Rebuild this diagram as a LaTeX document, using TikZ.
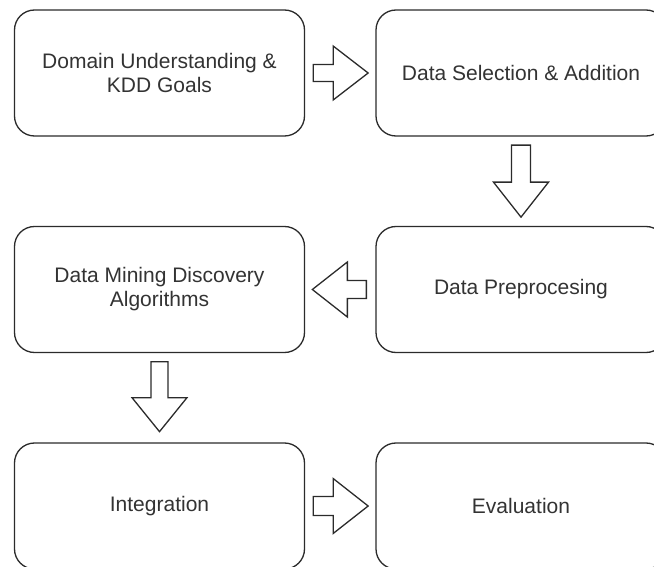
\documentclass[tikz,border=0pt]{standalone}
\usepackage{fontspec}
\setmainfont{Liberation Sans}
\usetikzlibrary{calc}
\definecolor{linec}{HTML}{2B2B2B}
\definecolor{textc}{HTML}{333333}
\begin{document}
\begin{tikzpicture}[x=1pt,y=-1pt,
  box/.style={draw=linec, line width=1.3pt, rounded corners=20pt, fill=white,
    align=center, text=textc, font=\fontsize{21}{24}\selectfont,
    minimum width=290pt, minimum height=126pt, inner sep=0pt},
  barrow/.style={draw=linec, line width=1.3pt, fill=white, line join=miter}]
\useasboundingbox (0,0) rectangle (654,567);
\clip (0,0) rectangle (654,567);
\node[box] (b1) at (159.5,73) {Domain Understanding \&\\KDD Goals};
\node[box] (b2) at (521,73) {Data Selection \& Addition};
\node[box] (b3) at (159.5,289.5) {Data Mining Discovery\\Algorithms};
\node[box] (b4) at (521,289.5) {Data Preprocesing};
\node[box] (b5) at (159.5,506) {Integration};
\node[box] (b6) at (521,506) {Evaluation};
% right arrow b1 -> b2
\draw[barrow] ($(b1.east)+(8,-8.5)$) -- ++(20,0) -- ++(0,-18.5) -- ++(35,27)
  -- ++(-35,27) -- ++(0,-18.5) -- ++(-20,0) -- cycle;
% down arrow b2 -> b4
\draw[barrow] ($(b2.south)+(-9.5,8.5)$) -- ++(0,37) -- ++(-18,0) -- ++(27.5,35)
  -- ++(27.5,-35) -- ++(-18,0) -- ++(0,-37) -- cycle;
% left arrow b4 -> b3
\draw[barrow] ($(b4.west)+(-9,-9)$) -- ++(-19,0) -- ++(0,-18.5) -- ++(-35,27.5)
  -- ++(35,27.5) -- ++(0,-18.5) -- ++(19,0) -- cycle;
% down arrow b3 -> b5
\draw[barrow] ($(b3.south)+(-8.5,8.5)$) -- ++(0,36) -- ++(-19,0) -- ++(27.5,34)
  -- ++(27.5,-34) -- ++(-19,0) -- ++(0,-36) -- cycle;
% right arrow b5 -> b6
\draw[barrow] ($(b5.east)+(8,-9.5)$) -- ++(20,0) -- ++(0,-18) -- ++(35,27.5)
  -- ++(-35,27.5) -- ++(0,-18) -- ++(-20,0) -- cycle;
\end{tikzpicture}
\end{document}
